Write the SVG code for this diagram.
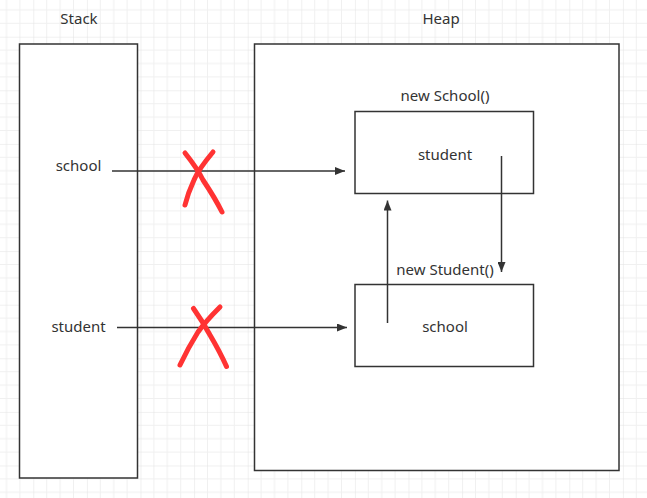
<svg xmlns="http://www.w3.org/2000/svg" width="647" height="498" viewBox="0 0 647 498">
<defs>
<pattern id="grid" patternUnits="userSpaceOnUse" x="33.3" y="36.7" width="53.6" height="53.6">
<path d="M13.4 0V53.6M26.8 0V53.6M40.2 0V53.6M0 13.4H53.6M0 26.8H53.6M0 40.2H53.6" stroke="#f0f0f0" stroke-width="1" fill="none"/>
<path d="M0 0V53.6M0 0H53.6" stroke="#e2e2e2" stroke-width="1" fill="none"/>
</pattern>
<marker id="ah" markerWidth="10" markerHeight="8" refX="10" refY="4" orient="auto" markerUnits="userSpaceOnUse">
<path d="M0 0L10 4L0 8Z" fill="#333"/>
</marker>
<style>
.box{fill:#fff;stroke:#333;stroke-width:1.5}
.t{font-family:"Noto Sans","Open Sans",sans-serif;font-size:15px;fill:#333}
.c{text-anchor:middle}
.ln{stroke:#333;stroke-width:1.5;fill:none}
.x{stroke:#ff3333;stroke-width:5;fill:none;stroke-linecap:round;stroke-linejoin:round}
</style>
</defs>
<rect width="647" height="498" fill="#fff"/>
<rect width="647" height="498" fill="url(#grid)"/>

<g id="stack">
<rect class="box" x="19.5" y="44" width="118" height="434"/>
<text class="t c" x="79" y="24">Stack</text>
<text class="t c" x="78.5" y="171">school</text>
<text class="t c" x="78.5" y="332">student</text>
</g>

<g id="heap">
<rect class="box" x="254.5" y="44" width="364.5" height="426.5"/>
<text class="t c" x="441" y="24">Heap</text>
</g>

<g id="new-school">
<rect class="box" x="355" y="111.5" width="178.5" height="82"/>
<text class="t c" x="445" y="101">new School()</text>
<text class="t c" x="445" y="160">student</text>
</g>

<g id="new-student">
<rect class="box" x="355" y="284.5" width="178.5" height="82"/>
<text class="t c" x="445" y="275">new Student()</text>
<text class="t c" x="445" y="332">school</text>
</g>

<g id="connectors">
<line class="ln" x1="112" y1="171" x2="345" y2="171" marker-end="url(#ah)"/>
<line class="ln" x1="117" y1="327.5" x2="347" y2="327.5" marker-end="url(#ah)"/>
<line class="ln" x1="501.5" y1="156" x2="501.5" y2="272" marker-end="url(#ah)"/>
<line class="ln" x1="387.5" y1="323" x2="387.5" y2="200.5" marker-end="url(#ah)"/>
</g>

<g id="cross-marks">
<path class="x" d="M213 152Q198 170 194 180Q188 193 185 205"/>
<path class="x" d="M185 153Q197 168 203 180Q215 198 222 212"/>
<path class="x" d="M220 307Q205 322 198 332Q188 348 180 365"/>
<path class="x" d="M193.5 308.5Q203 322 210 335Q220 352 226.5 366.5"/>
</g>
</svg>
